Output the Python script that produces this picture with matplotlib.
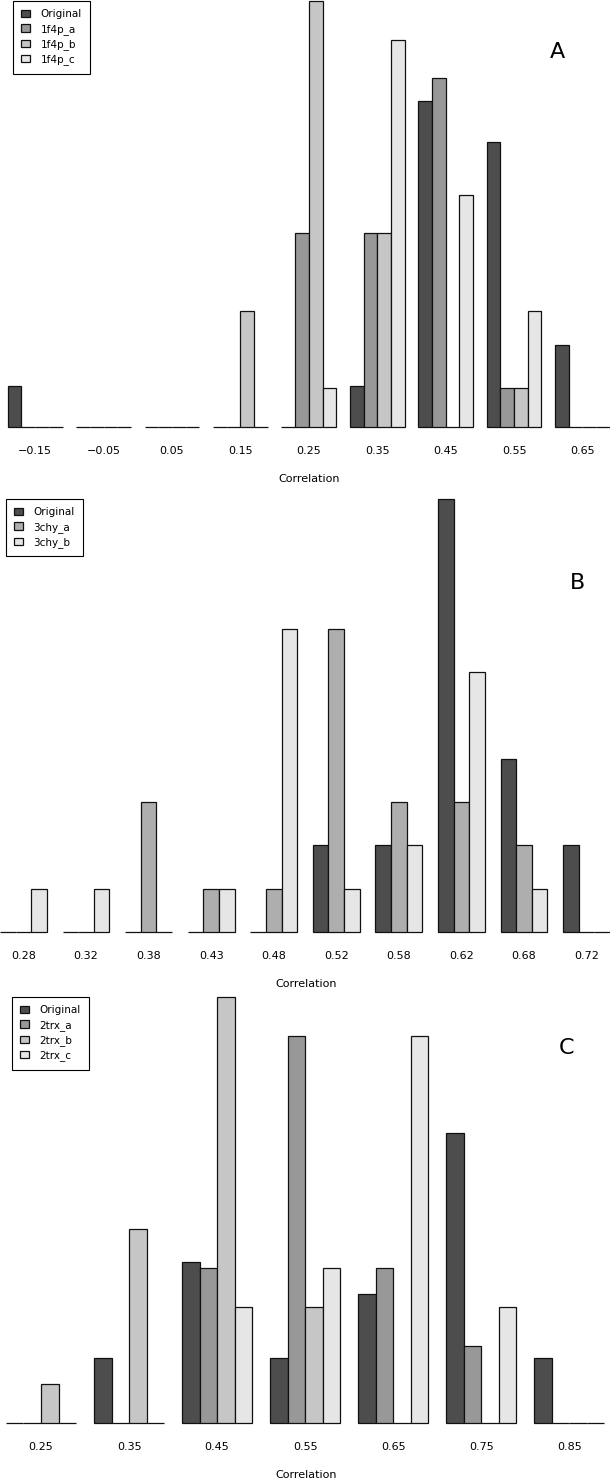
import numpy as np
import matplotlib
matplotlib.use('Agg')
import matplotlib.pyplot as plt

# panel A: counts per correlation bin
bins_a = ['\u22120.15', '\u22120.05', '0.05', '0.15', '0.25', '0.35', '0.45', '0.55', '0.65']
orig_a = [1, 0, 0, 0, 0, 1, 8, 7, 2]
f4p_a = [0, 0, 0, 0, 5, 5, 9, 1, 0]
f4p_b = [0, 0, 0, 3, 11, 5, 0, 1, 0]
f4p_c = [0, 0, 0, 0, 1, 10, 6, 3, 0]
names_a = ['Original', '1f4p_a', '1f4p_b', '1f4p_c']

# panel B
bins_b = ['0.28', '0.32', '0.38', '0.43', '0.48', '0.52', '0.58', '0.62', '0.68', '0.72']
orig_b = [0, 0, 0, 0, 0, 2, 2, 10, 4, 2]
chy_a = [0, 0, 3, 1, 1, 7, 3, 3, 2, 0]
chy_b = [1, 1, 0, 1, 7, 1, 2, 6, 1, 0]
names_b = ['Original', '3chy_a', '3chy_b']

# panel C
bins_c = ['0.25', '0.35', '0.45', '0.55', '0.65', '0.75', '0.85']
orig_c = [0, 2, 5, 2, 4, 9, 2]
trx_a = [0, 0, 4, 10, 4, 2, 0]
trx_b = [1, 5, 11, 3, 0, 0, 0]
trx_c = [0, 0, 3, 4, 10, 3, 0]
names_c = ['Original', '2trx_a', '2trx_b', '2trx_c']

grays4 = ['#4D4D4D', '#989898', '#C6C6C6', '#E6E6E6']
grays3 = ['#4D4D4D', '#AEAEAE', '#E6E6E6']

W, H = 610, 1481
fig = plt.figure(figsize=(W / 100, H / 100), dpi=100)
plt.rcParams['font.family'] = ['DejaVu Sans']


def panel(series, names, labels, colors, base, top, xlim, letter, letter_xy,
          leg_xy, xlab_x):
    ax = fig.add_axes([0, 1 - base / H, 1, (base - top) / H])
    n = len(series)
    dens = [np.array(s, dtype=float) / sum(s) for s in series]
    handles = []
    for j, d in enumerate(dens):
        x = 1 + np.arange(len(d)) * (n + 1) + j
        b = ax.bar(x, d, width=1, align='edge', color=colors[j],
                   edgecolor='#111111', linewidth=0.9, clip_on=False)
        handles.append(b)
    ax.set_xlim(*xlim)
    ax.set_ylim(0, max(d.max() for d in dens))
    centers = 1 + np.arange(len(labels)) * (n + 1) + n / 2
    ax.set_xticks(centers, labels)
    ax.tick_params(axis='x', length=0, pad=14, labelsize=8)
    ax.set_yticks([])
    for sp in ax.spines.values():
        sp.set_visible(False)
    ax.patch.set_visible(False)
    fig.text(xlab_x / W, 1 - (base + 52) / H, 'Correlation', ha='center',
             va='center', fontsize=8)
    fig.text(letter_xy[0] / W, 1 - letter_xy[1] / H, letter, ha='center',
             va='center', fontsize=16)
    leg = ax.legend(handles, names, loc='upper left',
                    bbox_to_anchor=(leg_xy[0] / W, 1 - leg_xy[1] / H),
                    bbox_transform=fig.transFigure, fontsize=7.5,
                    fancybox=False, framealpha=1, edgecolor='black',
                    handlelength=0.85, handleheight=0.7, handletextpad=1.0,
                    labelspacing=0.42, borderpad=0.8, borderaxespad=0)
    leg.get_frame().set_linewidth(0.8)
    return ax


panel([orig_a, f4p_a, f4p_b, f4p_c], names_a, bins_a, grays4,
      427, 1, (0.43, 45.01), 'A', (557, 52), (13, 1), 309)
panel([orig_b, chy_a, chy_b], names_b, bins_b, grays3,
      932, 499, (1.0, 40.0), 'B', (578, 583), (6, 499), 306)
panel([orig_c, trx_a, trx_b, trx_c], names_c, bins_c, grays4,
      1423, 997, (0.665, 35.32), 'C', (567, 1048), (12, 997), 306)

plt.savefig('out.png', dpi=100)
